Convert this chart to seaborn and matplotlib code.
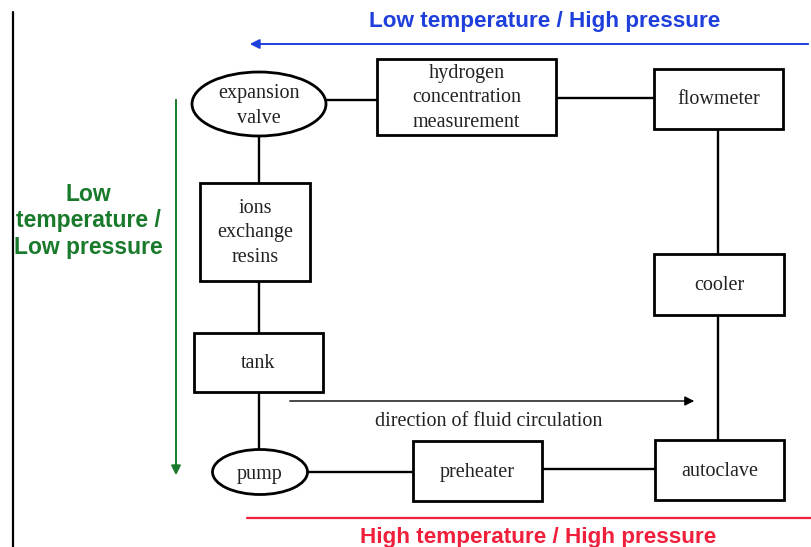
import matplotlib
matplotlib.use("Agg")
import matplotlib.pyplot as plt
from matplotlib.patches import Rectangle, Ellipse
import seaborn as sns

sns.set_theme(style="white")

# boxes of the loop: label, left, top, right, bottom (pixel space of the picture)
box_labels = ["hydrogen\nconcentration\nmeasurement", "flowmeter", "ions\nexchange\nresins",
              "cooler", "tank", "preheater", "autoclave"]
box_x0 = [377, 654, 200, 654, 194, 413, 655]
box_y0 = [59, 69, 183, 254, 333, 441, 440]
box_x1 = [556, 783, 310, 784, 323, 542, 784]
box_y1 = [135, 129, 281, 315, 392, 501, 500]

# ellipses: label, centre x, centre y, width, height
ell_labels = ["expansion\nvalve", "pump"]
ell_cx = [259, 260]
ell_cy = [104, 472]
ell_w = [134, 95]
ell_h = [64, 45]

# pipes between components
pipe_x = [(325, 377), (556, 654), (718, 718), (718, 718), (259, 259), (259, 259), (259, 259), (307, 413), (542, 655)]
pipe_y = [(100, 100), (98, 98), (129, 254), (315, 440), (136, 183), (281, 333), (392, 450), (472, 472), (469, 469)]

fig = plt.figure(figsize=(8.11, 5.47), dpi=100)
ax = fig.add_axes([0, 0, 1, 1])
ax.set_xlim(0, 811)
ax.set_ylim(547, 0)
ax.axis("off")

for xs, ys in zip(pipe_x, pipe_y):
    sns.lineplot(x=list(xs), y=list(ys), ax=ax, color="black", linewidth=1.7,
                 sort=False, estimator=None)

for lab, x0, y0, x1, y1 in zip(box_labels, box_x0, box_y0, box_x1, box_y1):
    ax.add_patch(Rectangle((x0, y0), x1 - x0, y1 - y0, facecolor="white",
                           edgecolor="black", linewidth=2.0, zorder=3))
    ax.text((x0 + x1) / 2, (y0 + y1) / 2 + 1, lab, ha="center", va="center",
            family="Liberation Serif", fontsize=14.5, linespacing=1.38, color="#222222", zorder=4)

for lab, cx, cy, w, h in zip(ell_labels, ell_cx, ell_cy, ell_w, ell_h):
    ax.add_patch(Ellipse((cx, cy), w, h, facecolor="white", edgecolor="black",
                         linewidth=2.0, zorder=3))
    ax.text(cx, cy + 2, lab, ha="center", va="center", family="Liberation Serif",
            fontsize=14.5, linespacing=1.38, color="#222222", zorder=4)

# left frame line
ax.plot([13, 13], [12, 547], color="black", linewidth=1.6)

# flow direction arrow
ax.annotate("", xy=(697, 401), xytext=(287, 401),
            arrowprops=dict(arrowstyle="-|>", color="black", lw=1.0, mutation_scale=14))
ax.text(489, 422, "direction of fluid circulation", ha="center", va="center",
        family="Liberation Serif", fontsize=14.5, color="#222222")

# blue: low temperature / high pressure
blue = "#1f3fdc"
ax.annotate("", xy=(247, 44), xytext=(811, 44),
            arrowprops=dict(arrowstyle="-|>", color=blue, lw=1.4, mutation_scale=14))
ax.text(545, 22, "Low temperature / High pressure", ha="center", va="center",
        family="Liberation Sans", fontweight="bold", fontsize=16.2, color=blue)

# green: low temperature / low pressure
green = "#197a2b"
ax.annotate("", xy=(176, 478), xytext=(176, 97),
            arrowprops=dict(arrowstyle="-|>", color=green, lw=1.4, mutation_scale=14))
ax.text(88, 221, "Low\ntemperature /\nLow pressure", ha="center", va="center",
        family="Liberation Sans", fontweight="bold", fontsize=16.5, color=green,
        linespacing=1.2)

# red: high temperature / high pressure
red = "#f0203c"
ax.plot([247, 811], [518, 518], color=red, linewidth=1.6)
ax.text(538, 538, "High temperature / High pressure", ha="center", va="center",
        family="Liberation Sans", fontweight="bold", fontsize=16.2, color=red)

fig.savefig("out.png", dpi=100)
